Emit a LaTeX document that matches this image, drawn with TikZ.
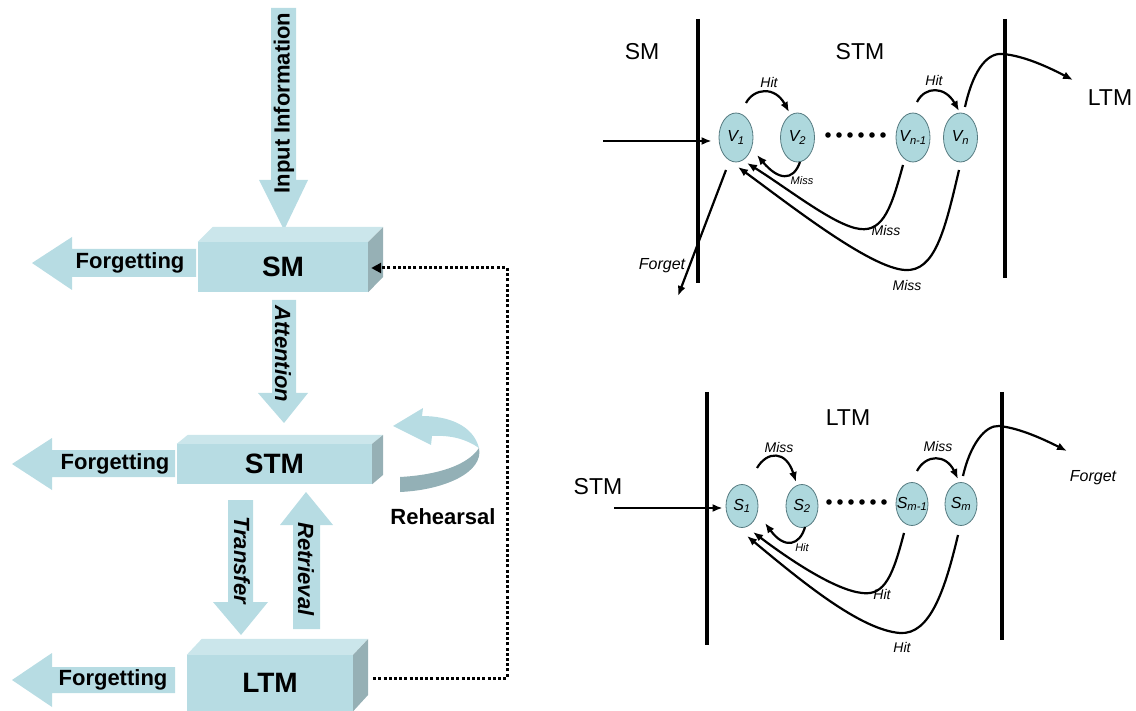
\documentclass[tikz,border=0pt]{standalone}
\usepackage{fontspec}
\setmainfont{Liberation Sans}
\usetikzlibrary{arrows.meta,calc,shapes.geometric}
\definecolor{abl}{HTML}{B7DCE3}
\definecolor{abtop}{HTML}{CBE6EB}
\definecolor{abside}{HTML}{96B0B5}
\definecolor{rdark}{HTML}{93B0B6}
\definecolor{ellfill}{HTML}{AED8DD}
\definecolor{elldraw}{HTML}{557A80}
\newcommand\fsz[1]{\fontsize{#1}{#1}\selectfont}
\begin{document}
\begin{tikzpicture}[x=1pt,y=-1pt,
  blockarrow/.style={fill=abl,draw=none},
  blbl/.style={font=\bfseries\fsz{22},inner sep=0},
  bilbl/.style={font=\bfseries\itshape\fsz{22},inner sep=0},
  frontbox/.style={rectangle,fill=abl,draw=none,inner sep=0,font=\bfseries\fsz{28}},
  topface/.style={fill=abtop},
  sideface/.style={fill=abside},
  dotln/.style={line width=3pt,dash pattern=on 3pt off 2.2pt,-{Triangle[length=10pt,width=10pt]}},
  vline/.style={line width=3.4pt},
  vnode/.style={ellipse,draw=elldraw,fill=ellfill,line width=0.8pt,minimum width=34pt,minimum height=49pt,inner sep=0,
     label={[font=\itshape\fsz{16},inner sep=0]center:#1}},
  snode/.style={ellipse,draw=elldraw,fill=ellfill,line width=0.8pt,minimum width=32pt,minimum height=43pt,inner sep=0,
     label={[font=\itshape\fsz{16},inner sep=0]center:#1}},
  conn/.style={line width=2.2pt,-{Latex[length=10pt,width=8pt]}},
  rlbl/.style={font=\fsz{23},inner sep=0},
  ilbl/.style={font=\itshape\fsz{14},inner sep=0},
  islbl/.style={font=\itshape\fsz{11},inner sep=0},
  flbl/.style={font=\itshape\fsz{16},inner sep=0}
]
\useasboundingbox (0,0) rectangle (1136,711);

% ================= LEFT PANEL =================
\fill[blockarrow] (271,8) -- (296,8) -- (296,180) -- (308,180) -- (284,230) -- (259,180) -- (271,180) -- cycle;
\node[blbl,rotate=90] (tin) at (284,103) {Input Information};
\fill[blockarrow] (272,300) -- (296,300) -- (296,393) -- (308,393) -- (284,423) -- (258,393) -- (272,393) -- cycle;
\node[bilbl,rotate=-90] (tatt) at (283,354) {Attention};
\fill[blockarrow] (228,500) -- (253,500) -- (253,602) -- (268,602) -- (241,635) -- (213,602) -- (228,602) -- cycle;
\node[bilbl,rotate=-90] (ttra) at (242,560) {Transfer};
\fill[blockarrow] (293,629) -- (320,629) -- (320,525) -- (333,525) -- (306,492) -- (280,525) -- (293,525) -- cycle;
\node[bilbl,rotate=-90] (tret) at (306,569) {Retrieval};

\fill[blockarrow] (32,263) -- (72,237) -- (72,249) -- (196,249) -- (196,277) -- (72,277) -- (72,290) -- cycle;
\node[blbl] (f1) at (130,263) {Forgetting};
\fill[blockarrow] (12,464) -- (52,438) -- (52,450) -- (175,450) -- (175,477) -- (52,477) -- (52,490) -- cycle;
\node[blbl] (f2) at (115,464) {Forgetting};
\fill[blockarrow] (12,680) -- (52,653) -- (52,667) -- (175,667) -- (175,693) -- (52,693) -- (52,707) -- cycle;
\node[blbl] (f3) at (113,680) {Forgetting};

\node[frontbox,minimum width=170pt,minimum height=50pt] (sm) at (283,267) {SM};
\fill[topface] (sm.north west) -- ++(15,-15) -- ++(170,0) -- (sm.north east) -- cycle;
\fill[sideface] (sm.north east) -- ++(15,-15) -- ++(0,50) -- (sm.south east) -- cycle;

\node[frontbox,minimum width=195pt,minimum height=40pt] (stm) at (274.5,464) {STM};
\fill[topface] (stm.north west) -- ++(11,-9) -- ++(195,0) -- (stm.north east) -- cycle;
\fill[sideface] (stm.north east) -- ++(11,-9) -- ++(0,40) -- (stm.south east) -- cycle;

\node[frontbox,minimum width=166pt,minimum height=56pt] (ltm) at (270,683) {LTM};
\fill[topface] (ltm.north west) -- ++(15,-16) -- ++(166,0) -- (ltm.north east) -- cycle;
\fill[sideface] (ltm.north east) -- ++(15,-16) -- ++(0,56) -- (ltm.south east) -- cycle;

% rehearsal arrow
\fill[abl] (393,426) -- (423,408) -- (422,416) .. controls (448,416) and (473,425) .. (479,448)
  .. controls (466,439) and (451,435) .. (432,436) -- (431,445) -- cycle;
\fill[rdark] (479,448) .. controls (484,472) and (445,490) .. (400,492) -- (400,477)
  .. controls (436,475) and (467,466) .. (479,448) -- cycle;
\node[blbl] (reh) at (443,517) {Rehearsal};

\coordinate (dA) at (507,678);
\coordinate (dB) at (507,268);
\draw[dotln] ([xshift=20pt,yshift=5pt]ltm.east) -- (dA) -- (dB) -- ([xshift=3pt,yshift=-1pt]sm.east);

% ================= RIGHT TOP =================
\draw[vline] (698,19) -- (698,283);
\draw[vline] (1005,19) -- (1005,278);
\node[rlbl] (lsm) at (642,52) {SM};
\node[rlbl] (lstm) at (860,52) {STM};
\node[rlbl] (lltm) at (1110,98) {LTM};

\node[vnode={V\textsubscript{1}}] (v1) at (736,137.5) {};
\node[vnode={V\textsubscript{2}}] (v2) at (797.5,137.5) {};
\node[vnode={V\textsubscript{n-1}}] (vn1) at (913,137.5) {};
\node[vnode={V\textsubscript{n}}] (vn) at (960.5,137.5) {};
\foreach \i in {0,...,5} \fill ({828+\i*11},135) circle (2.8pt);

\coordinate (inA) at (603,141);
\draw[conn,shorten >=7pt] (inA) -- (inA -| v1.west);
\draw[conn] ([shift={(10,-34.5)}]v1.center) .. controls (754,88) and (775,86) .. ([shift={(-8.5,-25.5)}]v2.center);
\node[ilbl] (h1) at (769,82) {Hit};
\draw[conn] ([shift={(4,-35.5)}]vn1.center) .. controls (925,86) and (945,86) .. ([shift={(-1.5,-26.5)}]vn.center);
\node[ilbl] (h2) at (934,80) {Hit};
\coordinate (pk1) at (1003,54);
\coordinate (ltmEnd) at (1073,80);
\draw[conn] ([shift={(4.5,-30.5)}]vn.center) .. controls (972,75) and (985,52) .. (pk1)
  .. controls (1025,56) and (1050,68) .. (ltmEnd);
\draw[conn] ([shift={(2.5,24.5)}]v2.center) .. controls (793,182) and (778,180) .. ([shift={(21,17.5)}]v1.center);
\node[islbl] (m1) at (802,181) {Miss};
\draw[conn] ([shift={(-10,27.5)}]vn1.center) .. controls (892,205) and (884,232) .. (860,229)
  .. controls (835,226) and (790,190) .. ([shift={(11,25.5)}]v1.center);
\node[ilbl] (m2) at (886,230) {Miss};
\draw[conn] ([shift={(-1.5,32.5)}]vn.center) .. controls (945,230) and (935,272) .. (905,270)
  .. controls (870,268) and (790,205) .. ([shift={(2,29.5)}]v1.center);
\node[ilbl] (m3) at (907,285) {Miss};
\coordinate (fgEnd) at (678,296);
\draw[conn] ([shift={(-10,32.5)}]v1.center) -- (fgEnd);
\node[flbl] (fg1) at (662,266) {Forget};

% ================= RIGHT BOTTOM =================
\draw[vline] (707,392) -- (707,645);
\draw[vline] (1002,392) -- (1002,640);
\node[rlbl] (bltm) at (848,418) {LTM};
\node[rlbl] (bstm) at (598,487) {STM};
\node[flbl] (fg2) at (1093,478) {Forget};

\node[snode={S\textsubscript{1}}] (s1) at (742,506) {};
\node[snode={S\textsubscript{2}}] (s2) at (802,506) {};
\node[snode={S\textsubscript{m-1}}] (sm1) at (912,504) {};
\node[snode={S\textsubscript{m}}] (smm) at (961,504) {};
\foreach \i in {0,...,5} \fill ({829+\i*11},502) circle (2.8pt);

\coordinate (inB) at (614,508);
\draw[conn,shorten >=3pt] (inB) -- (inB -| s1.west);
\draw[conn] ([shift={(15,-38)}]s1.center) .. controls (767,451) and (786,450) .. ([shift={(-6,-24)}]s2.center);
\node[ilbl] (bm1) at (779,447) {Miss};
\draw[conn] ([shift={(5,-33)}]sm1.center) .. controls (926,454) and (946,454) .. ([shift={(-3,-25)}]smm.center);
\node[ilbl] (bm2) at (938,446) {Miss};
\coordinate (pk2) at (999,426);
\coordinate (fgEnd2) at (1067,451);
\draw[conn] ([shift={(2,-28)}]smm.center) .. controls (970,445) and (985,425) .. (pk2)
  .. controls (1020,428) and (1045,440) .. (fgEnd2);
\draw[conn] ([shift={(3,21)}]s2.center) .. controls (800,545) and (785,550) .. ([shift={(23,17)}]s1.center);
\node[islbl] (bh1) at (802,548) {Hit};
\draw[conn] ([shift={(-8,29)}]sm1.center) .. controls (893,575) and (885,596) .. (862,593)
  .. controls (835,590) and (790,560) .. ([shift={(11,26)}]s1.center);
\node[ilbl] (bh2) at (882,594) {Hit};
\draw[conn] ([shift={(-3,31)}]smm.center) .. controls (945,590) and (930,635) .. (900,633)
  .. controls (860,630) and (800,580) .. ([shift={(5,30)}]s1.center);
\node[ilbl] (bh3) at (902,647) {Hit};
\end{tikzpicture}
\end{document}
